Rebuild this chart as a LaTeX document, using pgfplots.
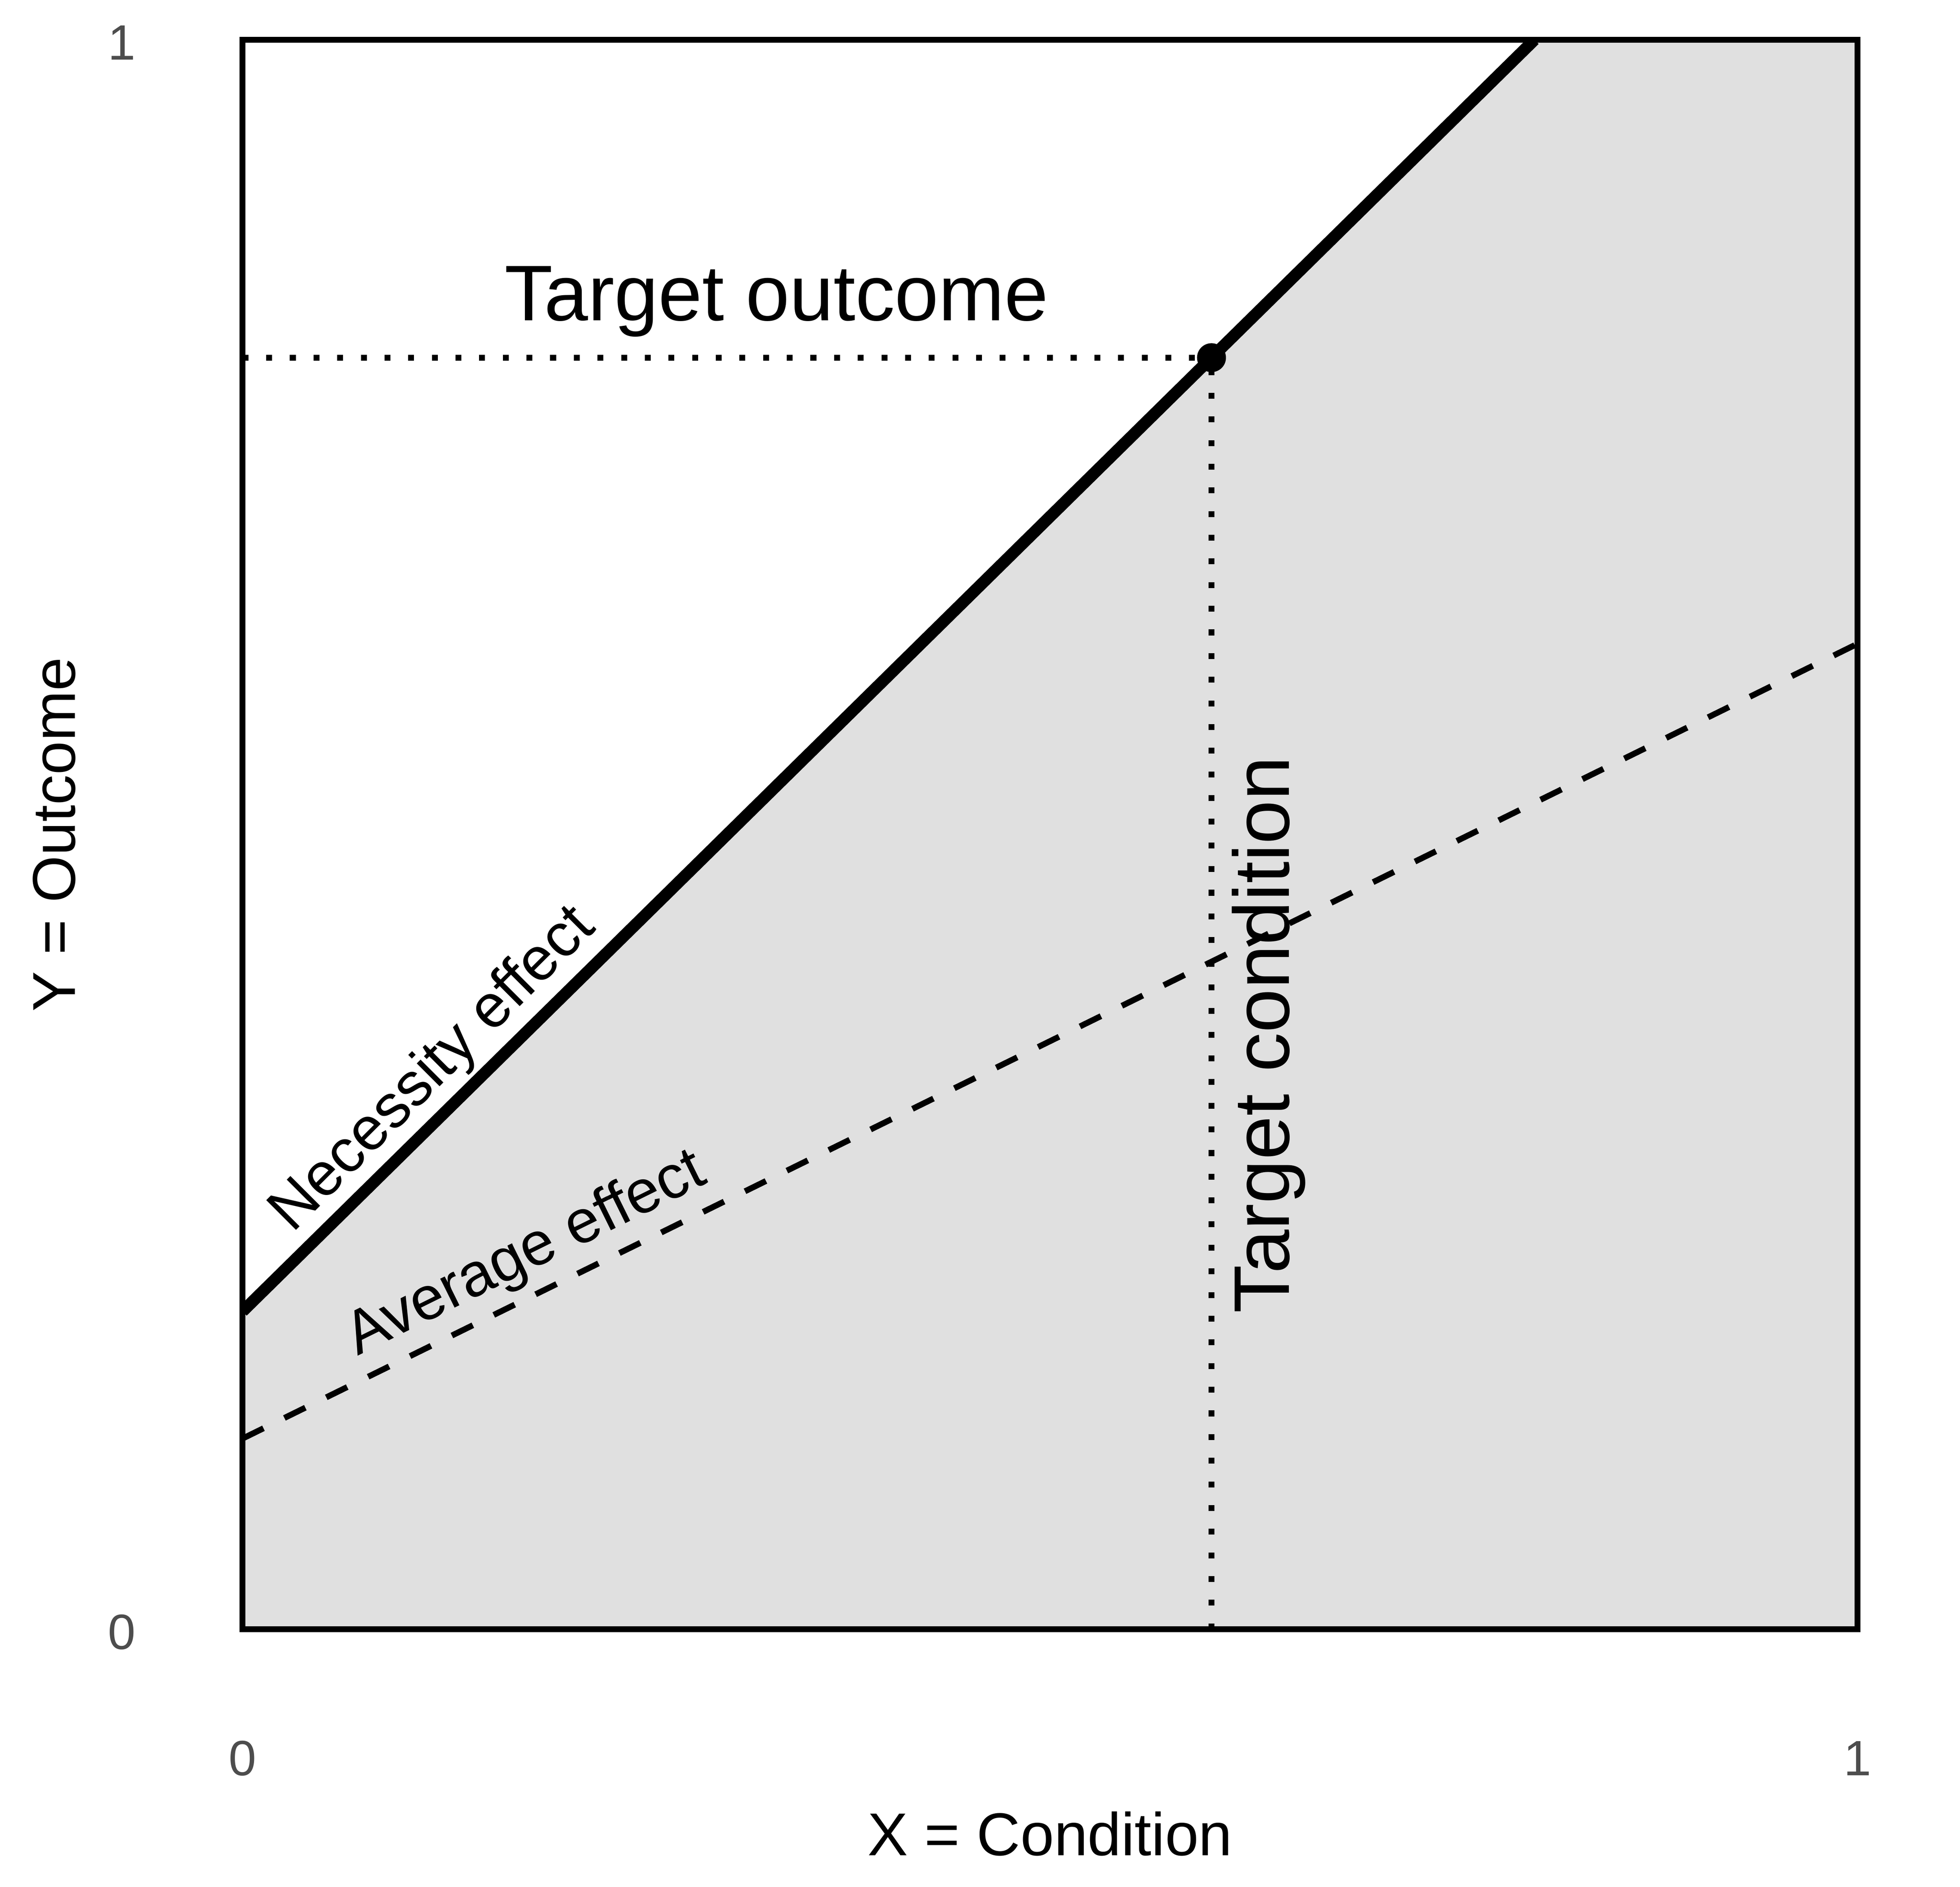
\documentclass[border=0pt]{standalone}
\usepackage{fontspec}
\setmainfont{Liberation Sans}
\usepackage{pgfplots}
\pgfplotsset{compat=1.18}

\definecolor{shade}{HTML}{E0E0E0}
\definecolor{ticktext}{HTML}{4D4D4D}

\begin{document}
\begin{tikzpicture}
\useasboundingbox (0,0) rectangle (596.4bp,574bp);
\begin{axis}[
    at={(73.8bp,78.3bp)}, anchor=south west,
    width=491.4bp, height=483.6bp, scale only axis,
    xmin=0, xmax=1, ymin=0, ymax=1,
    axis on top,
    axis line style={line width=1.8bp, black},
    xtick={0,1}, ytick={0,1},
    xticklabels={0,1}, yticklabels={0,1},
    major tick length=0pt,
    /pgf/number format/assume math mode=true,
    tick label style={font=\fontsize{15.1bp}{18bp}\selectfont, text=ticktext, inner sep=0pt},
    xticklabel style={anchor=base, yshift=-44.5bp},
    yticklabel style={anchor=base, xshift=-36.7bp, yshift=-6.1bp},
    xlabel={X = Condition}, ylabel={Y = Outcome},
    label style={font=\fontsize{18.4bp}{22bp}\selectfont, inner sep=0pt},
    x label style={at={(axis description cs:0.5,-0.14227)}, anchor=base},
    y label style={at={(axis description cs:-0.10378,0.5)}, anchor=base},
]
    % area under the ceiling line
    \addplot[draw=none, fill=shade] coordinates {(0,0.2) (0.8,1) (1,1)} \closedcycle;

    % average effect
    \addplot[black, line width=1.8bp, dash pattern=on 7.1bp off 7.1bp]
        coordinates {(0,0.12) (1,0.62)};

    % target guides
    \addplot[black, line width=1.8bp, dash pattern=on 1.8bp off 5.4bp]
        coordinates {(0,0.8) (0.6,0.8)};
    \addplot[black, line width=1.8bp, dash pattern=on 1.8bp off 5.4bp]
        coordinates {(0.6,0) (0.6,0.8)};

    % necessity effect (ceiling)
    \addplot[black, line width=3.6bp] coordinates {(0,0.2) (0.8,1)};
    \addplot[black, only marks, mark=*, mark size=4.2bp] coordinates {(0.6,0.8)};

    \node[font=\fontsize{24bp}{28bp}\selectfont, anchor=base, inner sep=0pt]
        at (axis cs:0.3307,0.8234) {Target outcome};
    \node[font=\fontsize{24bp}{28bp}\selectfont, anchor=base, inner sep=0pt, rotate=90]
        at (axis cs:0.648,0.374) {Target condition};
    \node[font=\fontsize{18.6bp}{22bp}\selectfont, anchor=base, inner sep=0pt, rotate=45]
        at (axis cs:0.1253,0.3447) {Necessity effect};
    \node[font=\fontsize{18.6bp}{22bp}\selectfont, anchor=base, inner sep=0pt, rotate=26.3]
        at (axis cs:0.180,0.2266) {Average effect};
\end{axis}
\end{tikzpicture}
\end{document}
